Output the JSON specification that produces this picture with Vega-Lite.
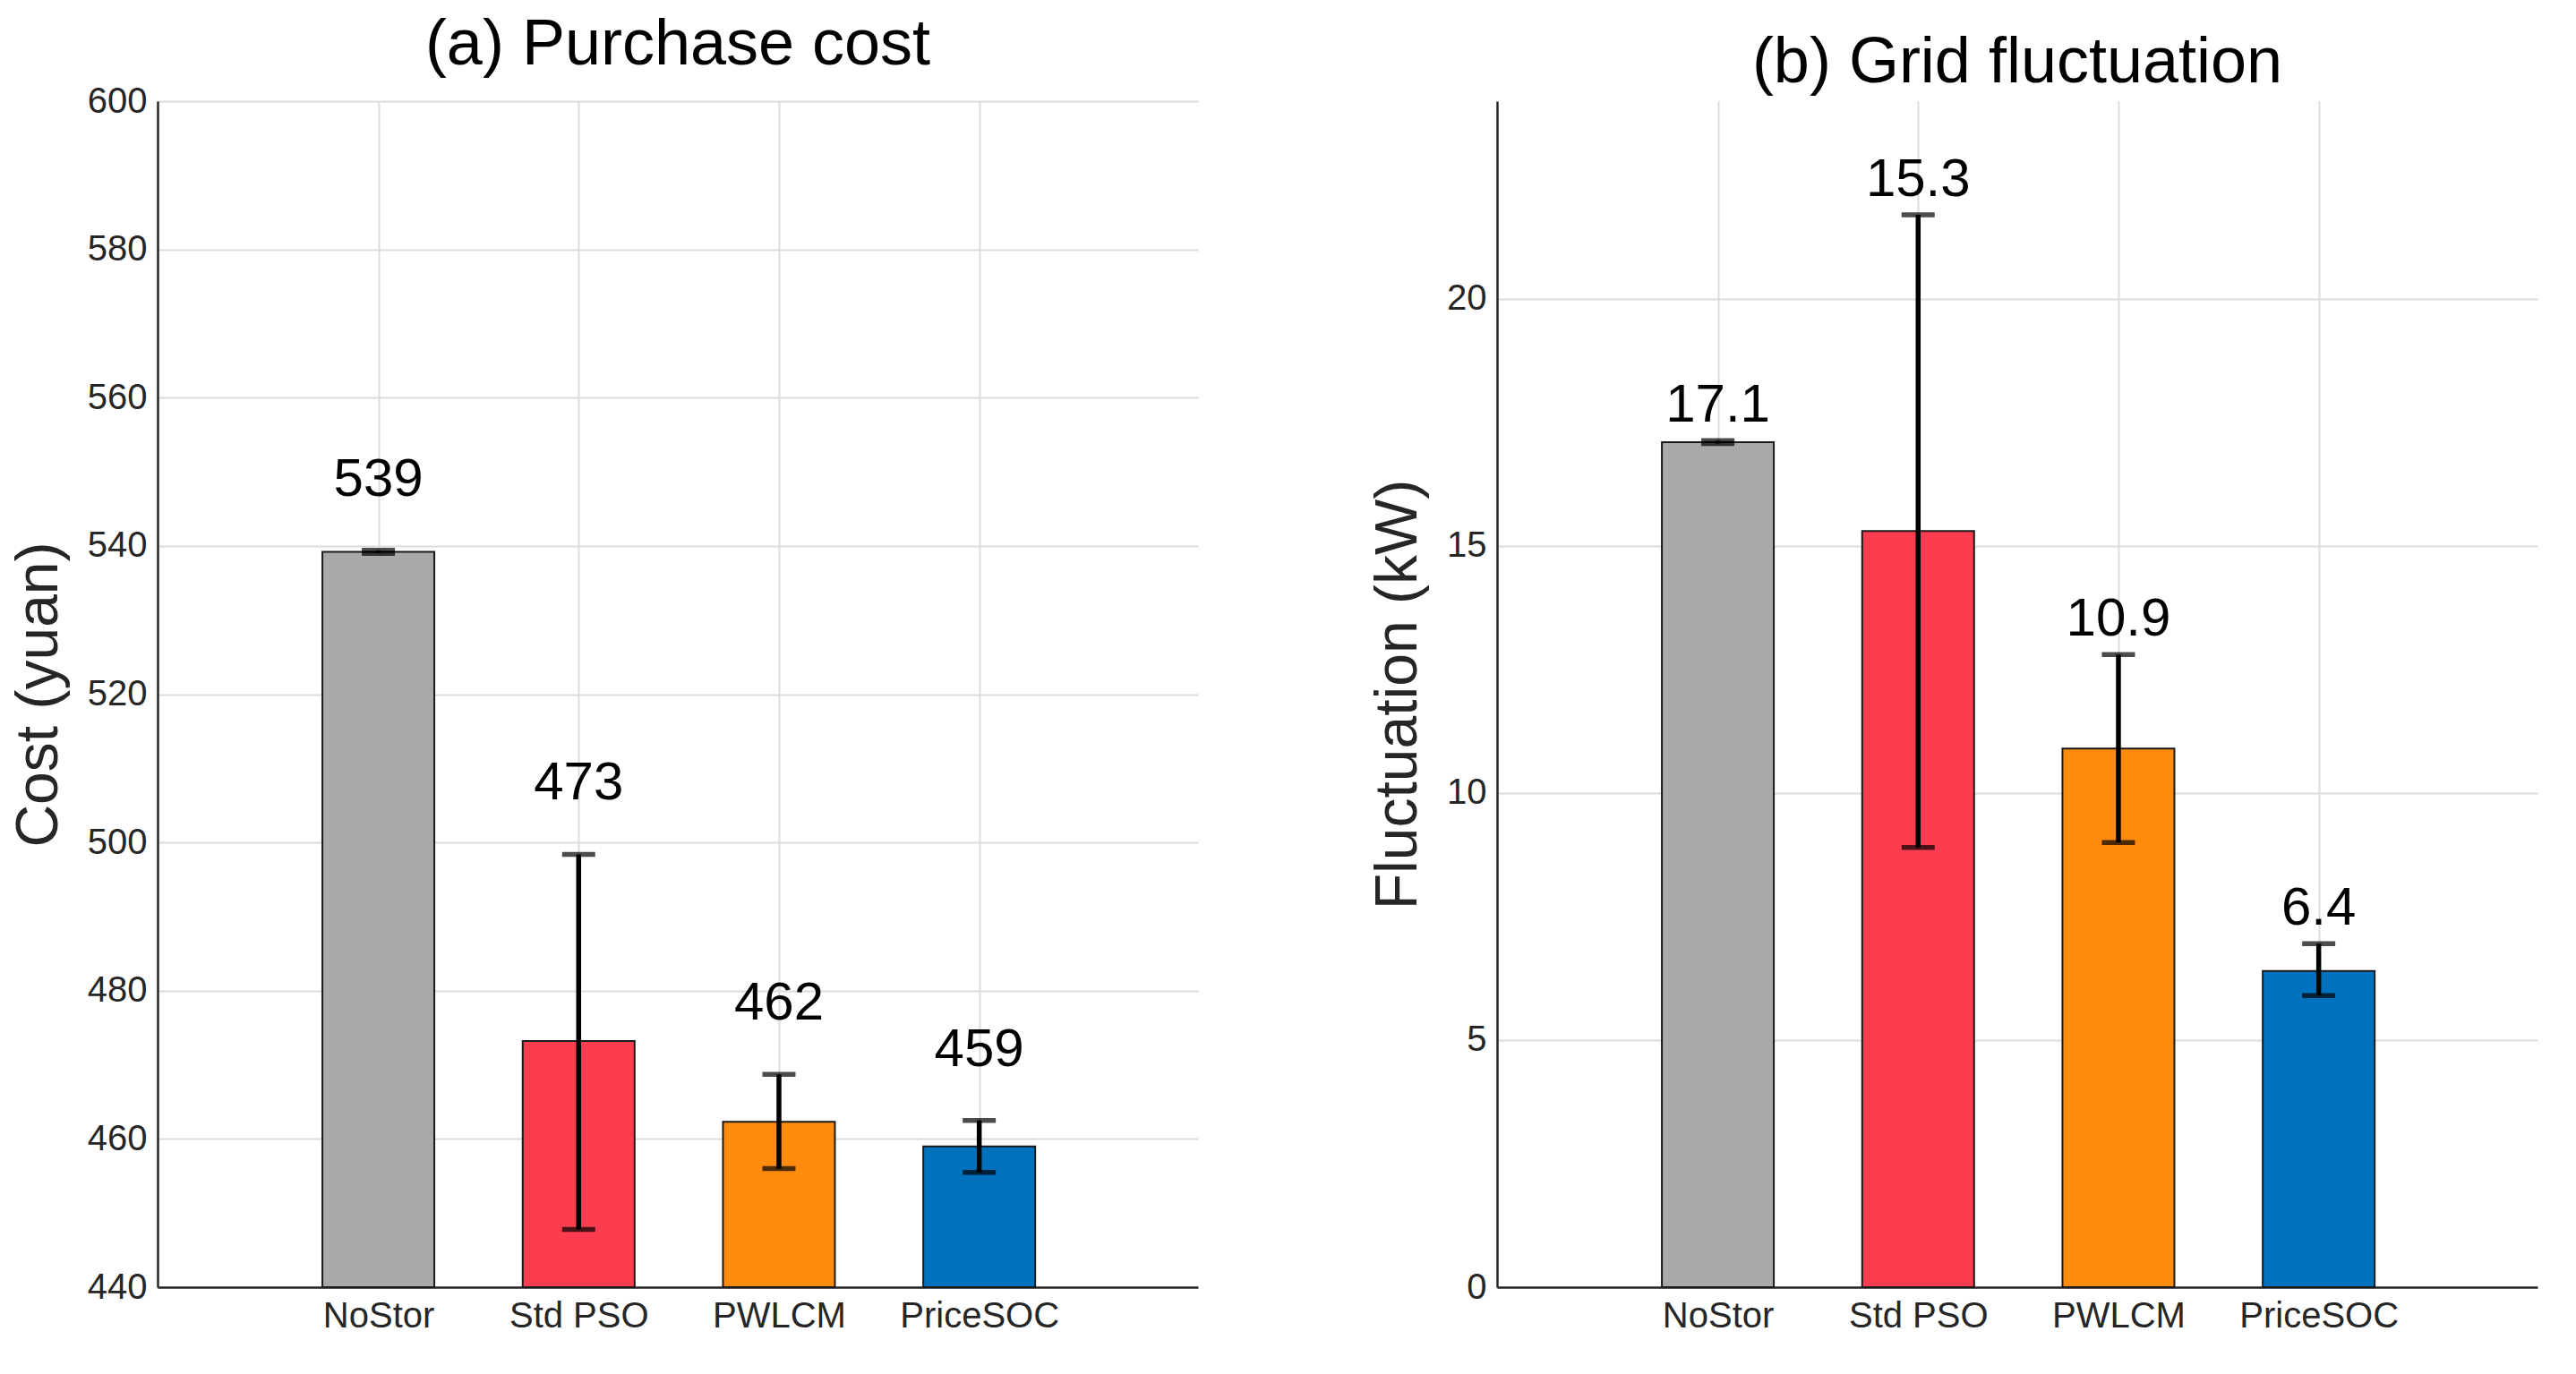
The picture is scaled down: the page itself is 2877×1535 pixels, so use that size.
{
"$schema":"https://vega.github.io/schema/vega-lite/v6.json",
"background":"white",
"padding":{"left":10,"top":14,"right":5,"bottom":5},
"spacing":190,
"config":{"font":"Liberation Sans","view":{"stroke":null},
 "axis":{"labelFont":"Liberation Sans","titleFont":"Liberation Sans","labelColor":"#262626","titleColor":"#262626","domainColor":"#262626","domainWidth":2.5,"ticks":false,"gridColor":"#dcdcdc","gridWidth":2,"labelFontSize":40,"titleFontSize":66,"titleFontWeight":"normal","labelPadding":12},
 "title":{"font":"Liberation Sans","fontSize":72,"fontWeight":"normal","color":"black","offset":6}},
"datasets":{"d":[
 {"panel":"a","x":1,"name":"NoStor","v":539.2,"lo":539.0,"hi":539.4,"lab":"539","c":"#A9A9A9"},
 {"panel":"a","x":2,"name":"Std PSO","v":473.2,"lo":447.8,"hi":498.4,"lab":"473","c":"#FC3D4F"},
 {"panel":"a","x":3,"name":"PWLCM","v":462.3,"lo":456.0,"hi":468.7,"lab":"462","c":"#FF8C0F"},
 {"panel":"a","x":4,"name":"PriceSOC","v":459.0,"lo":455.5,"hi":462.5,"lab":"459","c":"#0072BD"},
 {"panel":"b","x":1,"name":"NoStor","v":17.1,"lo":17.07,"hi":17.13,"lab":"17.1","c":"#A9A9A9"},
 {"panel":"b","x":2,"name":"Std PSO","v":15.3,"lo":8.9,"hi":21.7,"lab":"15.3","c":"#FC3D4F"},
 {"panel":"b","x":3,"name":"PWLCM","v":10.9,"lo":9.0,"hi":12.8,"lab":"10.9","c":"#FF8C0F"},
 {"panel":"b","x":4,"name":"PriceSOC","v":6.4,"lo":5.9,"hi":6.95,"lab":"6.4","c":"#0072BD"}
]},
"hconcat":[
 {"width":1162,"height":1325,"title":"(a) Purchase cost",
  "data":{"name":"d"},"transform":[{"filter":"datum.panel=='a'"}],
  "encoding":{"x":{"field":"x","type":"quantitative","scale":{"domain":[-0.08,5.07],"nice":false,"zero":false},
     "axis":{"values":[1,2,3,4],"title":null,"labelExpr":"['','NoStor','Std PSO','PWLCM','PriceSOC'][datum.value]","labelFontSize":40}}},
  "layer":[
   {"mark":{"type":"bar","size":125,"stroke":"#1a1a1a","strokeWidth":2},
    "encoding":{"y":{"field":"v","type":"quantitative","scale":{"domain":[440,600],"nice":false,"zero":false},"axis":{"values":[440,460,480,500,520,540,560,580,600],"format":"d","title":"Cost (yuan)","titlePadding":20}},
     "y2":{"datum":440},"color":{"field":"c","type":"nominal","scale":null}}},
   {"mark":{"type":"rule","strokeWidth":5.5,"color":"black"},"encoding":{"y":{"field":"lo","type":"quantitative"},"y2":{"field":"hi"}}},
   {"mark":{"type":"tick","orient":"horizontal","size":37,"thickness":5.5,"color":"black"},"encoding":{"y":{"field":"lo","type":"quantitative"}}},
   {"mark":{"type":"tick","orient":"horizontal","size":37,"thickness":5.5,"color":"black"},"encoding":{"y":{"field":"hi","type":"quantitative"}}},
   {"mark":{"type":"text","fontSize":60,"dy":-48,"baseline":"bottom","color":"black"},"encoding":{"y":{"field":"hi","type":"quantitative"},"text":{"field":"lab"}}}
  ]},
 {"width":1162,"height":1325,"title":"(b) Grid fluctuation",
  "data":{"name":"d"},"transform":[{"filter":"datum.panel=='b'"}],
  "encoding":{"x":{"field":"x","type":"quantitative","scale":{"domain":[-0.08,5.07],"nice":false,"zero":false},
     "axis":{"values":[1,2,3,4],"title":null,"labelExpr":"['','NoStor','Std PSO','PWLCM','PriceSOC'][datum.value]","labelFontSize":40}}},
  "layer":[
   {"mark":{"type":"bar","size":125,"stroke":"#1a1a1a","strokeWidth":2},
    "encoding":{"y":{"field":"v","type":"quantitative","scale":{"domain":[0,24],"nice":false},"axis":{"values":[0,5,10,15,20],"format":"d","title":"Fluctuation (kW)","titlePadding":20}},
     "y2":{"datum":0},"color":{"field":"c","type":"nominal","scale":null}}},
   {"mark":{"type":"rule","strokeWidth":5.5,"color":"black"},"encoding":{"y":{"field":"lo","type":"quantitative"},"y2":{"field":"hi"}}},
   {"mark":{"type":"tick","orient":"horizontal","size":37,"thickness":5.5,"color":"black"},"encoding":{"y":{"field":"lo","type":"quantitative"}}},
   {"mark":{"type":"tick","orient":"horizontal","size":37,"thickness":5.5,"color":"black"},"encoding":{"y":{"field":"hi","type":"quantitative"}}},
   {"mark":{"type":"text","fontSize":60,"dy":-8,"baseline":"bottom","color":"black"},"encoding":{"y":{"field":"hi","type":"quantitative"},"text":{"field":"lab"}}}
  ]}
]}
